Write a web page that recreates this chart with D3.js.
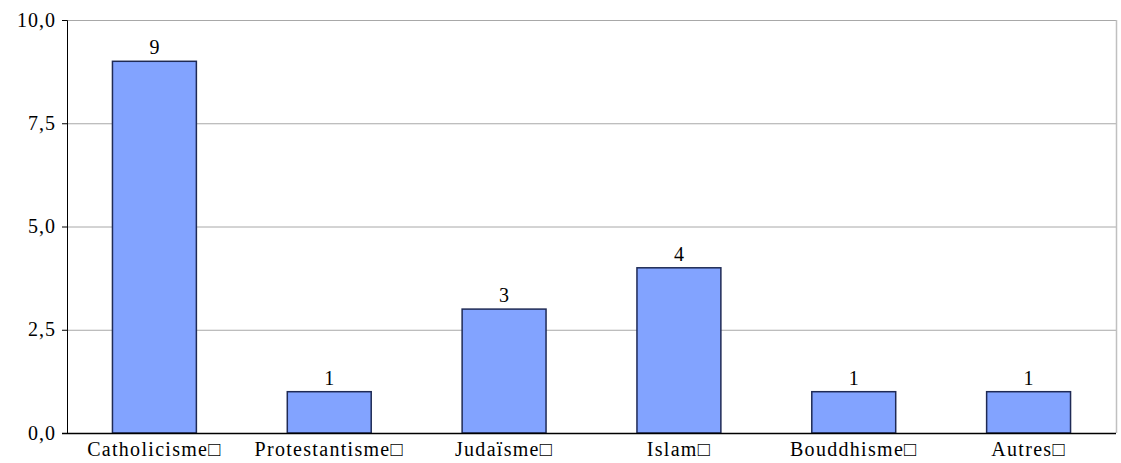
<!DOCTYPE html>
<html>
<head>
	<meta charset="utf-8">
	<script src="https://d3js.org/d3.v7.min.js"></script>
	<style>
		body { margin: 0; background: #fff; }
		text { font-family: "Liberation Serif", "DejaVu Serif", serif; font-size: 20px; fill: #000; }
	</style>
</head>
<body>
	<div id="chart"></div>
	<script>
		// data
		var categories = ["Catholicisme", "Protestantisme", "Judaïsme", "Islam", "Bouddhisme", "Autres"];
		var values = [9, 1, 3, 4, 1, 1];
		var yTicks = [0, 2.5, 5, 7.5, 10];

		var margin = { top: 20, right: 5, bottom: 30, left: 67 };
		var width = 1121 - margin.left - margin.right,
			height = 463 - margin.top - margin.bottom;

		var svg = d3.select("#chart").append("svg")
			.attr("width", 1121)
			.attr("height", 463)
			.append("g")
			.attr("transform", "translate(" + margin.left + "," + margin.top + ")");

		var x = d3.scaleBand()
			.domain(categories)
			.range([0, width])
			.paddingInner(0.52)
			.paddingOuter(0.26);

		var y = d3.scaleLinear()
			.domain([0, 10])
			.range([height, 0]);

		// gridlines
		svg.selectAll(".grid")
			.data(yTicks.slice(1))
			.enter().append("line")
			.attr("x1", 0).attr("x2", width)
			.attr("y1", function (d) { return y(d) + 0.5; })
			.attr("y2", function (d) { return y(d) + 0.5; })
			.attr("stroke", "#a8a8a8");

		// right border
		svg.append("line")
			.attr("x1", width + 0.5).attr("x2", width + 0.5)
			.attr("y1", 0).attr("y2", height)
			.attr("stroke", "#c0c0c0").attr("stroke-width", 1.5);

		// bars
		svg.selectAll(".bar")
			.data(values)
			.enter().append("rect")
			.attr("x", function (d, i) { return x(categories[i]); })
			.attr("y", function (d) { return y(d); })
			.attr("width", x.bandwidth())
			.attr("height", function (d) { return height - y(d); })
			.attr("fill", "#82a3ff")
			.attr("stroke", "#1f2a55")
			.attr("stroke-width", 1.5);

		// value labels
		svg.selectAll(".label")
			.data(values)
			.enter().append("text")
			.attr("x", function (d, i) { return x(categories[i]) + x.bandwidth() / 2; })
			.attr("y", function (d) { return y(d) - 7; })
			.attr("text-anchor", "middle")
			.text(function (d) { return d; });

		// y axis
		var yAxis = d3.axisLeft(y)
			.tickValues(yTicks)
			.tickSize(5)
			.tickFormat(function (d) { return d3.format(".1f")(d).replace(".", ","); });
		var gy = svg.append("g").call(yAxis);
		gy.select(".domain").attr("stroke", "#000");
		gy.selectAll(".tick line").attr("stroke", "#000");
		gy.selectAll(".tick text")
			.attr("x", -11)
			.attr("dy", "0.3em")
			.style("font-family", "Liberation Serif")
			.style("font-size", "20px")
			.style("letter-spacing", "1px");

		// x axis
		svg.append("line")
			.attr("x1", -5).attr("x2", width)
			.attr("y1", height + 0.5).attr("y2", height + 0.5)
			.attr("stroke", "#000").attr("stroke-width", 1.5);

		var xlab = svg.selectAll(".xlab")
			.data(categories)
			.enter().append("text")
			.attr("x", function (d) { return x(d) + x.bandwidth() / 2; })
			.attr("y", height + 23)
			.attr("text-anchor", "middle")
			.style("letter-spacing", "1.3px")
			.text(function (d) { return d; });
		xlab.append("tspan")
			.style("font-weight", "bold")
			.text("\u25A1");
	</script>
</body>
</html>
